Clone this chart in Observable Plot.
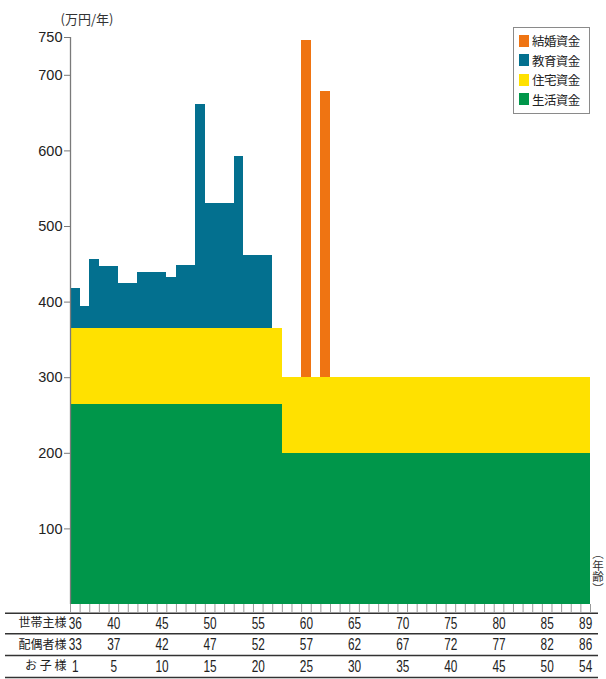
<!DOCTYPE html>
<html><head><meta charset="utf-8">
<script src="https://cdn.jsdelivr.net/npm/d3@7"></script>
<script src="https://cdn.jsdelivr.net/npm/@observablehq/plot@0.6"></script>
<style>
body{margin:0;background:#fff;}
#wrap{position:relative;width:606px;height:679px;overflow:hidden;}
#legend{position:absolute;left:513px;top:27px;width:77px;height:87px;border:1.5px solid #8a8a8a;box-sizing:border-box;background:#fff;padding-top:3px;}
#legend .it{display:flex;align-items:center;height:19.5px;padding-left:5px;font-family:"Noto Sans CJK JP",sans-serif;font-size:12.5px;color:#222;letter-spacing:-0.6px;}
#legend .sw{width:10px;height:12px;margin-right:3px;flex:none;}
#agelab{position:absolute;left:591px;top:548px;width:13px;writing-mode:vertical-rl;text-orientation:upright;font-family:"Noto Sans CJK JP",sans-serif;font-size:11.5px;color:#333;line-height:13px;}
</style></head><body><div id="wrap"></div>
<script>
// ---- data ----
const categories = ["結婚資金", "教育資金", "住宅資金", "生活資金"];
const colors = ["#ef7412", "#03708f", "#ffe100", "#00964a"];

const ages = [36,37,38,39,40,41,42,43,44,45,46,47,48,49,50,51,52,53,54,55,56,57,58,59,60,61,62,
  63,64,65,66,67,68,69,70,71,72,73,74,75,76,77,78,79,80,81,82,83,84,85,86,87,88,89];

// 生活資金 (万円/年) per age
const lifeValues = [265,265,265,265,265,265,265,265,265,265,265,265,265,265,265,265,265,265,265,265,265,265,
  200,200,200,200,200,200,200,200,200,200,200,200,200,200,200,200,200,200,200,200,200,200,200,200,200,200,200,200,200,200,200,200];
// 住宅資金 per age
const housingValues = [100,100,100,100,100,100,100,100,100,100,100,100,100,100,100,100,100,100,100,100,100,100,
  100,100,100,100,100,100,100,100,100,100,100,100,100,100,100,100,100,100,100,100,100,100,100,100,100,100,100,100,100,100,100,100];
// 教育資金 (ages 36–56)
const eduAges = [36,37,38,39,40,41,42,43,44,45,46,47,48,49,50,51,52,53,54,55,56];
const eduValues = [53,29,92,82,82,59,59,74,74,74,67,84,84,297,166,166,166,227,97,97,97];
// 結婚資金
const marriageAges = [60, 62];
const marriageValues = [446, 378];

// table
const headCols = [36,40,45,50,55,60,65,70,75,80,85,89];
const spouseCols = [33,37,42,47,52,57,62,67,72,77,82,86];
const childCols = [1,5,10,15,20,25,30,35,40,45,50,54];
const rowLabels = ["世帯主様", "配偶者様", "お 子 様"];
const yTicks = [100,200,300,400,500,600,700,750];

// ---- stacking ----
const rows = [];
ages.forEach((age, i) => {
  let base = 0;
  const life = lifeValues[i];
  rows.push({age, cat: "生活資金", y1: base, y2: base + life}); base += life;
  const h = housingValues[i];
  rows.push({age, cat: "住宅資金", y1: base, y2: base + h}); base += h;
  const ei = eduAges.indexOf(age);
  if (ei >= 0) { rows.push({age, cat: "教育資金", y1: base, y2: base + eduValues[ei]}); base += eduValues[ei]; }
  const mi = marriageAges.indexOf(age);
  if (mi >= 0) { rows.push({age, cat: "結婚資金", y1: base, y2: base + marriageValues[mi]}); base += marriageValues[mi]; }
});
const boundaries = ages.map(a => a - 0.5).concat([ages[ages.length - 1] + 0.5]);

const narrow = "'Liberation Sans Narrow','Liberation Sans',Arial,sans-serif";
const cjk = "'Noto Sans CJK JP',sans-serif";
const rowDy = [19, 40.5, 62];
const lineDy = [8.7, 29.3, 51, 73];

const plot = Plot.plot({
  width: 606, height: 679,
  marginLeft: 70, marginRight: 16, marginTop: 37, marginBottom: 75,
  style: {fontFamily: "'Liberation Sans',Arial,sans-serif", background: "#fff", color: "#222"},
  x: {domain: [35.5, 89.5], axis: null},
  y: {domain: [0, 750], axis: null},
  color: {domain: categories, range: colors},
  marks: [
    Plot.rect(rows, {x1: d => d.age - 0.5, x2: d => d.age + 0.5, y1: "y1", y2: "y2", fill: "cat", shapeRendering: "crispEdges"}),
    Plot.axisX({ticks: boundaries, tickSize: 8, tickFormat: () => "", stroke: "#9a9a9a", strokeWidth: 1}),
    Plot.ruleX([35.5], {y1: 0, y2: 750, stroke: "#7a7a7a", strokeWidth: 1.3}),
    Plot.axisY({ticks: yTicks, tickSize: 6, tickPadding: 2, fontSize: 14.5, stroke: "#7a7a7a", label: null, fill: "#222"}),
    Plot.text(["(万円/年)"], {frameAnchor: "top-left", dx: -10, dy: -23, textAnchor: "start", fontSize: 13, fontFamily: cjk, fill: "#333"}),
    ...lineDy.map(dy => Plot.ruleY([0], {dy, insetLeft: -65, insetRight: -8, stroke: "#333", strokeWidth: 1.6})),
    ...[headCols, spouseCols, childCols].map((cols, r) =>
      Plot.text(cols, {x: d => headCols[cols.indexOf(d)], text: d => String(d), frameAnchor: "bottom", dy: rowDy[r], fontSize: 16, fontFamily: narrow, fill: "#222", lineAnchor: "middle"})),
    ...rowLabels.map((lab, r) =>
      Plot.text([lab], {frameAnchor: "bottom-left", dx: -4, dy: rowDy[r], textAnchor: "end", lineAnchor: "middle", fontSize: 12, fontFamily: cjk, fill: "#222", letterSpacing: -0.5}))
  ]
});

// condense the table digits horizontally (narrow typeface look)
d3.select(plot).selectAll("g[font-family*='Narrow'] text").each(function() {
  const t = this.getAttribute("transform");
  if (t) this.setAttribute("transform", t + " scale(0.74,1)");
  else {
    const x = +this.getAttribute("x") || 0;
    this.setAttribute("transform", `translate(${x},0) scale(0.74,1) translate(${-x},0)`);
  }
});

const wrap = document.getElementById("wrap");
wrap.appendChild(plot);

const legend = document.createElement("div");
legend.id = "legend";
categories.forEach((c, i) => {
  const it = document.createElement("div"); it.className = "it";
  const sw = document.createElement("span"); sw.className = "sw"; sw.style.background = colors[i];
  const tx = document.createElement("span"); tx.textContent = c;
  it.appendChild(sw); it.appendChild(tx); legend.appendChild(it);
});
wrap.appendChild(legend);

const agelab = document.createElement("div");
agelab.id = "agelab"; agelab.textContent = "（年齢）";
wrap.appendChild(agelab);
</script>
</body></html>
